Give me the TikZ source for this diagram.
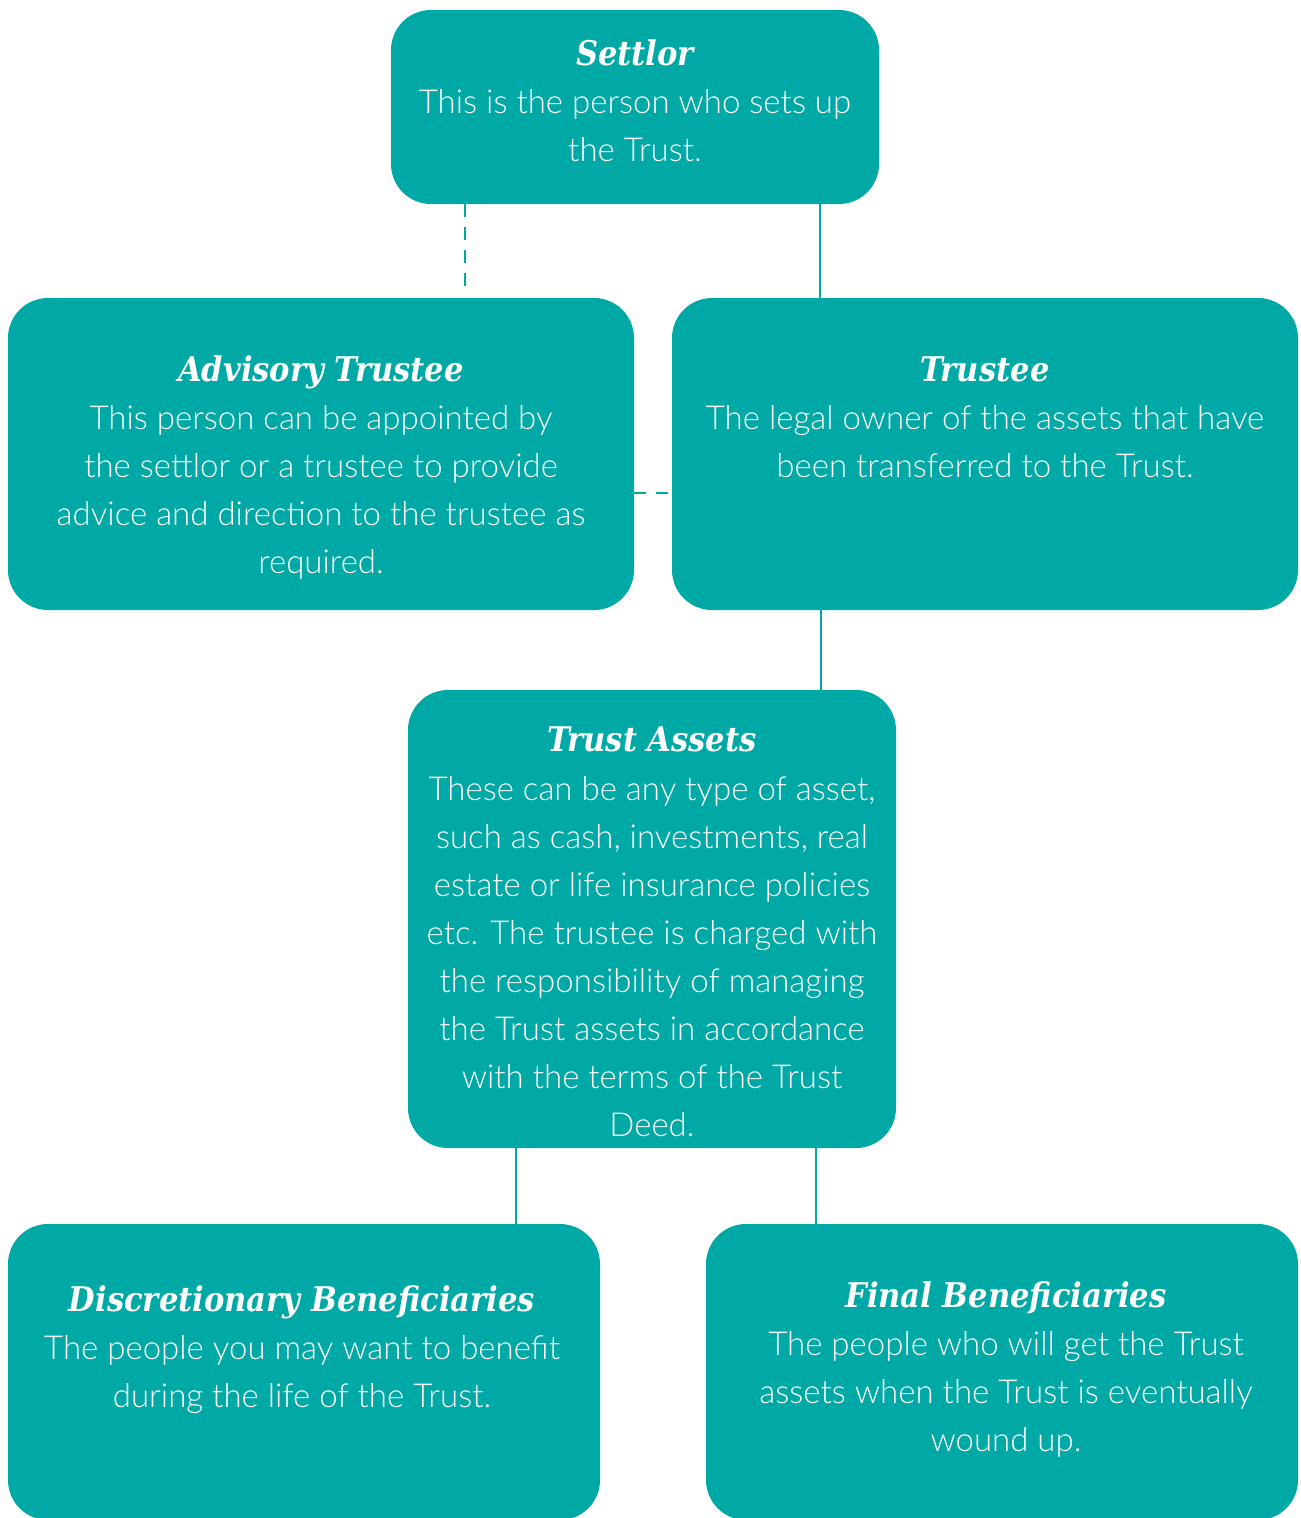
\documentclass[tikz,border=0pt]{standalone}
\usepackage{fontspec}
\newfontfamily\bodyfont{Lato}[UprightFont={* Light}]
\newfontfamily\titlefont{DejaVu Serif Condensed}[BoldItalicFont={* Bold Italic}]
\definecolor{teal1}{HTML}{00A9A6}
\begin{document}
\begin{tikzpicture}[x=1pt,y=-1pt,
  box/.style={fill=teal1,draw=none,rounded corners=40pt,inner sep=0pt},
  ttl/.style={anchor=base,text=white,inner sep=0pt,font=\titlefont\bfseries\itshape\fontsize{34}{40}\selectfont},
  body/.style={anchor=base,text=white,inner sep=0pt,align=center,font=\bodyfont\fontsize{33}{48}\selectfont},
  conn/.style={draw=teal1,line width=2pt},
  dsh/.style={conn,dash pattern=on 12.5pt off 10.5pt}]
\useasboundingbox (0,0) rectangle (1301,1518);
% boxes
\node[box,minimum width=488pt,minimum height=194pt] (settlor) at (635,107) {};
\node[box,minimum width=626pt,minimum height=312pt] (adv) at (321,454) {};
\node[box,minimum width=626pt,minimum height=312pt] (trustee) at (985,454) {};
\node[box,minimum width=488pt,minimum height=458pt] (assets) at (652,919) {};
\node[box,minimum width=592pt,minimum height=296pt] (disc) at (304,1372) {};
\node[box,minimum width=592pt,minimum height=296pt] (final) at (1002,1372) {};
% texts (body nodes anchored at the baseline of their last line)
\node[ttl] (settlor-t) at (635,65) {Settlor};
\node[body] (settlor-b) at (635,161) {This is the person who sets up\\the Trust.};
\node[ttl] (adv-t) at (321,381) {Advisory Trustee};
\node[body] (adv-b) at (321,573) {This person can be appointed by\\the settlor or a trustee to provide\\advice and direction to the trustee as\\required.};
\node[ttl] (trustee-t) at (985,381) {Trustee};
\node[body] (trustee-b) at (985,477) {The legal owner of the assets that have\\been transferred to the Trust.};
\node[ttl] (assets-t) at (652,751) {Trust Assets};
\node[body] (assets-b) at (652,1136) {These can be any type of asset,\\such as cash, investments, real\\estate or life insurance policies\\etc. The trustee is charged with\\the responsibility of managing\\the Trust assets in accordance\\with the terms of the Trust\\Deed.};
\node[ttl] (disc-t) at (302,1311) {Discretionary Beneficiaries};
\node[body] (disc-b) at (302,1407) {The people you may want to benefit\\during the life of the Trust.};
\node[ttl] (final-t) at (1006,1307) {Final Beneficiaries};
\node[body] (final-b) at (1006,1451) {The people who will get the Trust\\assets when the Trust is eventually\\wound up.};
% connectors
\coordinate (c1) at (465,0);
\coordinate (c2) at (820,0);
\coordinate (c3) at (821,0);
\coordinate (c4) at (516,0);
\coordinate (c5) at (816,0);
\coordinate (c6) at (0,493);
\coordinate (c7) at (0,287);
\draw[dsh] (settlor.south -| c1) -- (c1 |- c7);
\draw[conn] (settlor.south -| c2) -- (trustee.north -| c2);
\draw[conn,dash pattern=on 12pt off 10pt] (adv.east |- c6) -- (trustee.west |- c6);
\draw[conn] (trustee.south -| c3) -- (assets.north -| c3);
\draw[conn] (assets.south -| c4) -- (disc.north -| c4);
\draw[conn] (assets.south -| c5) -- (final.north -| c5);
\end{tikzpicture}
\end{document}
